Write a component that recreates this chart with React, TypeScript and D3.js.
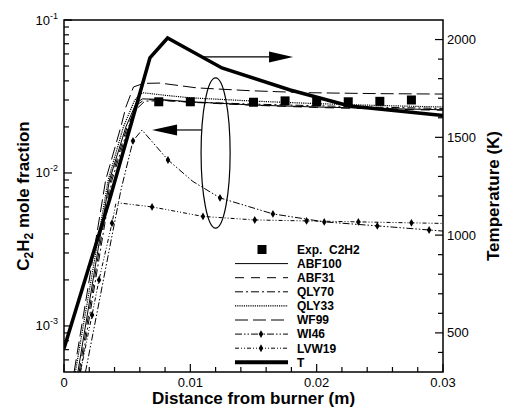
import React from 'react';
import * as d3 from 'd3';

const W = 505;
const H = 411;
const PL = 64, PR = 443, PT = 20, PB = 372;

// ---------- data ----------
const xMajorTicks = [0, 0.01, 0.02, 0.03];
const xTickLabels = ['0', '0.01', '0.02', '0.03'];
const leftMajorExp = [-3, -2, -1];
const rightMajorTicks = [500, 1000, 1500, 2000];
const rightTickLabels = ['500', '1000', '1500', '2000'];

const expX = [0.0075, 0.01, 0.015, 0.0175, 0.02, 0.0225, 0.025, 0.0275];
const expY = [0.0292, 0.0292, 0.029, 0.0296, 0.0292, 0.0292, 0.0294, 0.03];

const ABF100: [number, number][] = [[0.0011, 5e-4], [0.0036, 9e-3], [0.0049, 0.02], [0.0057, 0.0285], [0.0062, 0.0305], [0.0075, 0.0303], [0.01, 0.0292], [0.015, 0.0278], [0.02, 0.027], [0.025, 0.0264], [0.03, 0.0259]];
const ABF31: [number, number][] = [[0.0012, 5e-4], [0.0037, 9e-3], [0.005, 0.02], [0.0058, 0.028], [0.0064, 0.0302], [0.008, 0.0298], [0.01, 0.029], [0.015, 0.0277], [0.02, 0.0268], [0.025, 0.0262], [0.03, 0.0257]];
const QLY70: [number, number][] = [[0.0013, 5e-4], [0.0038, 9e-3], [0.0051, 0.02], [0.0057, 0.026], [0.0064, 0.0295], [0.008, 0.0297], [0.01, 0.0291], [0.015, 0.0282], [0.02, 0.0275], [0.025, 0.0269], [0.03, 0.0264]];
const QLY33: [number, number][] = [[0.0009, 5e-4], [0.0035, 9e-3], [0.0047, 0.02], [0.0056, 0.03], [0.0062, 0.0335], [0.008, 0.0322], [0.01, 0.031], [0.015, 0.0295], [0.02, 0.0284], [0.025, 0.0276], [0.03, 0.027]];
const WF99: [number, number][] = [[0.0008, 5e-4], [0.0033, 9e-3], [0.0045, 0.02], [0.0049, 0.027], [0.0055, 0.0365], [0.0063, 0.0385], [0.0076, 0.0387], [0.0105, 0.036], [0.0147, 0.0345], [0.019, 0.0335], [0.025, 0.033], [0.03, 0.0328]];
const WI46: [number, number][] = [[0.0017, 5e-4], [0.0045, 7.7e-3], [0.00546, 0.0162], [0.00617, 0.0191], [0.00823, 0.01217], [0.0102, 8.8e-3], [0.01235, 6.87e-3], [0.01654, 5.4e-3], [0.0206, 4.79e-3], [0.0248, 4.51e-3], [0.0289, 4.24e-3], [0.03, 4.17e-3]];
const WI46Markers = [0.00546, 0.00823, 0.01235, 0.01654, 0.0206, 0.0248, 0.0289];
const LVW19: [number, number][] = [[0.0013, 5e-4], [0.00222, 1.18e-3], [0.00277, 2.0e-3], [0.0038, 4.7e-3], [0.0041, 6.3e-3], [0.0045, 6.35e-3], [0.00697, 6.0e-3], [0.011, 5.2e-3], [0.0151, 4.93e-3], [0.0192, 4.86e-3], [0.0233, 4.79e-3], [0.0275, 4.72e-3], [0.03, 4.68e-3]];
const LVW19Markers = [0.00222, 0.00277, 0.0038, 0.00697, 0.011, 0.0151, 0.0192, 0.0233, 0.0275];
const Temp: [number, number][] = [[0, 420], [0.0036, 1180], [0.0068, 1906], [0.0082, 2008], [0.0125, 1855], [0.0179, 1742], [0.0226, 1660], [0.03, 1612]];

const legendLabels = ['Exp.  C2H2', 'ABF100', 'ABF31', 'QLY70', 'QLY33', 'WF99', 'WI46', 'LVW19', 'T'];

// ---------- scales ----------
const x = d3.scaleLinear().domain([0, 0.03]).range([PL, PR]);
const yL = d3.scaleLog().domain([5e-4, 0.1]).range([PB, PT]);
const yR = d3.scaleLinear().domain([300, 2100]).range([PB, PT]);

const lineL = d3.line<[number, number]>().x(d => x(d[0])).y(d => yL(d[1]));
const lineR = d3.line<[number, number]>().x(d => x(d[0])).y(d => yR(d[1]));

const FONT = '"Liberation Sans", Arial, Helvetica, sans-serif';

type Style = { dash?: string; width: number; marker?: boolean };
const styles: Record<string, Style> = {
  ABF100: { width: 1 },
  ABF31: { width: 1, dash: '9,7' },
  QLY70: { width: 1, dash: '8,3,2,3' },
  QLY33: { width: 1.2, dash: '1.2,1' },
  WF99: { width: 1, dash: '13,5' },
  WI46: { width: 1, dash: '7,2,1.5,2,1.5,2', marker: true },
  LVW19: { width: 1, dash: '4,2,1,2,1,2', marker: true },
  T: { width: 3.5 },
};

const diamond = d3.symbol().type(d3.symbolDiamond).size(18)() as string;

function interpY(data: [number, number][], xv: number): number {
  for (let i = 0; i < data.length - 1; i++) {
    const [x0, y0] = data[i];
    const [x1, y1] = data[i + 1];
    if (xv >= x0 && xv <= x1) {
      const t = (xv - x0) / (x1 - x0);
      return Math.pow(10, Math.log10(y0) + t * (Math.log10(y1) - Math.log10(y0)));
    }
  }
  return data[data.length - 1][1];
}

export default function App() {
  const leftMinor: number[] = [];
  for (let e = -4; e <= -2; e++) {
    for (let k = 2; k <= 9; k++) {
      const v = k * Math.pow(10, e);
      if (v > 5e-4 && v < 0.1) leftMinor.push(v);
    }
  }
  const rightMinor = d3.range(400, 2100, 100).filter(v => v % 500 !== 0);
  const xMinor = d3.range(0.002, 0.03, 0.002).filter(v => Math.abs(v / 0.01 - Math.round(v / 0.01)) > 1e-6);

  const series: [string, [number, number][]][] = [
    ['ABF100', ABF100], ['ABF31', ABF31], ['QLY70', QLY70], ['QLY33', QLY33],
    ['WF99', WF99], ['WI46', WI46], ['LVW19', LVW19],
  ];

  // annotations (data coordinates)
  const ellCx = x(0.012), ellRx = x(0.01315) - x(0.012);
  const ellTop = yL(0.0418), ellBot = yL(0.00436);
  const rArrowY = yR(1911);
  const rArrowX0 = x(0.011), rArrowX1 = x(0.01813);
  const lArrowY = yL(0.0191);
  const lArrowX0 = x(0.01092), lArrowX1 = x(0.00697);

  const legX0 = 235, legX1 = 288, legTx = 297, legY0 = 249.5, legDy = 14.1;

  return (
    <svg width={W} height={H} style={{ display: 'block', position: 'absolute', left: 0, top: 0 }} fontFamily={FONT}>
      <rect x={0} y={0} width={W} height={H} fill="#fff" />
      <defs>
        <clipPath id="plotClip">
          <rect x={PL} y={PT} width={PR - PL} height={PB - PT} />
        </clipPath>
      </defs>

      <g clipPath="url(#plotClip)">
        {series.map(([name, data]) => (
          <path key={name} d={lineL(data) as string} fill="none" stroke="#000"
            strokeWidth={styles[name].width} strokeDasharray={styles[name].dash} />
        ))}
        {WI46Markers.map((mx, i) => (
          <path key={'wm' + i} d={diamond} transform={`translate(${x(mx)},${yL(interpY(WI46, mx))})`} fill="#000" />
        ))}
        {LVW19Markers.map((mx, i) => (
          <path key={'lm' + i} d={diamond} transform={`translate(${x(mx)},${yL(interpY(LVW19, mx))})`} fill="#000" />
        ))}
        <path d={lineR(Temp) as string} fill="none" stroke="#000" strokeWidth={3.5} strokeLinejoin="miter" />
        {expX.map((ex, i) => (
          <rect key={'e' + i} x={x(ex) - 4.5} y={yL(expY[i]) - 4.5} width={9} height={9} fill="#000" />
        ))}
      </g>

      {/* annotations */}
      <ellipse cx={ellCx} cy={(ellTop + ellBot) / 2} rx={ellRx} ry={(ellBot - ellTop) / 2} fill="none" stroke="#000" strokeWidth={1.2} />
      <line x1={rArrowX0} y1={rArrowY} x2={rArrowX1 - 22} y2={rArrowY} stroke="#000" strokeWidth={1.2} />
      <path d={`M${rArrowX1},${rArrowY} L${rArrowX1 - 24},${rArrowY - 5.5} L${rArrowX1 - 24},${rArrowY + 5.5} Z`} fill="#000" />
      <line x1={lArrowX0} y1={lArrowY} x2={lArrowX1 + 22} y2={lArrowY} stroke="#000" strokeWidth={1.2} />
      <path d={`M${lArrowX1},${lArrowY} L${lArrowX1 + 25},${lArrowY - 5.5} L${lArrowX1 + 25},${lArrowY + 5.5} Z`} fill="#000" />

      {/* frame */}
      <rect x={PL} y={PT} width={PR - PL} height={PB - PT} fill="none" stroke="#000" strokeWidth={1.5} />

      {/* left ticks */}
      {leftMajorExp.map(e => (
        <g key={'lM' + e}>
          <line x1={PL} x2={PL + 8} y1={yL(Math.pow(10, e))} y2={yL(Math.pow(10, e))} stroke="#000" strokeWidth={1.2} />
          <text x={58} y={yL(Math.pow(10, e)) + 4.5} textAnchor="end" fontSize={13}>
            10<tspan fontSize={9} dy={-6}>{String(e)}</tspan>
          </text>
        </g>
      ))}
      {leftMinor.map((v, i) => (
        <line key={'lm' + i} x1={PL} x2={PL + 5} y1={yL(v)} y2={yL(v)} stroke="#000" strokeWidth={1.2} />
      ))}

      {/* right ticks */}
      {rightMajorTicks.map((v, i) => (
        <g key={'rM' + v}>
          <line x1={PR - 8} x2={PR} y1={yR(v)} y2={yR(v)} stroke="#000" strokeWidth={1.2} />
          <text x={447} y={yR(v) + 4.5} fontSize={13}>{rightTickLabels[i]}</text>
        </g>
      ))}
      {rightMinor.map(v => (
        <line key={'rm' + v} x1={PR - 5} x2={PR} y1={yR(v)} y2={yR(v)} stroke="#000" strokeWidth={1.2} />
      ))}

      {/* bottom ticks */}
      {xMajorTicks.map((v, i) => (
        <g key={'xM' + i}>
          <line x1={x(v)} x2={x(v)} y1={PB} y2={PB - 8} stroke="#000" strokeWidth={1.2} />
          <text x={x(v)} y={387} textAnchor="middle" fontSize={13}>{xTickLabels[i]}</text>
        </g>
      ))}
      {xMinor.map((v, i) => (
        <line key={'xm' + i} x1={x(v)} x2={x(v)} y1={PB} y2={PB - 5} stroke="#000" strokeWidth={1.2} />
      ))}

      {/* axis titles */}
      <text x={(PL + PR) / 2} y={404} textAnchor="middle" fontSize={17} fontWeight="bold">Distance from burner (m)</text>
      <text transform={`translate(29,${(PT + PB) / 2}) rotate(-90)`} textAnchor="middle" fontSize={17} fontWeight="bold">
        C<tspan fontSize={12} dy={4}>2</tspan><tspan dy={-4}>H</tspan><tspan fontSize={12} dy={4}>2</tspan><tspan dy={-4}> mole fraction</tspan>
      </text>
      <text transform={`translate(499,${(PT + PB) / 2}) rotate(-90)`} textAnchor="middle" fontSize={17} fontWeight="bold">Temperature (K)</text>

      {/* legend */}
      {legendLabels.map((lab, i) => {
        const ly = legY0 + i * legDy;
        const key = lab.startsWith('Exp') ? 'Exp' : lab;
        const st = styles[key];
        return (
          <g key={'leg' + i}>
            {key === 'Exp' ? (
              <rect x={262 - 4.5} y={ly - 4.5} width={9} height={9} fill="#000" />
            ) : (
              <line x1={legX0} x2={legX1} y1={ly} y2={ly} stroke="#000" strokeWidth={key === 'T' ? 4 : st.width} strokeDasharray={st.dash} />
            )}
            {st && st.marker ? <path d={diamond} transform={`translate(261,${ly})`} fill="#000" /> : null}
            <text x={legTx} y={ly + 4.3} fontSize={12} fontWeight="bold" style={{ whiteSpace: 'pre' }}>{lab}</text>
          </g>
        );
      })}
    </svg>
  );
}
